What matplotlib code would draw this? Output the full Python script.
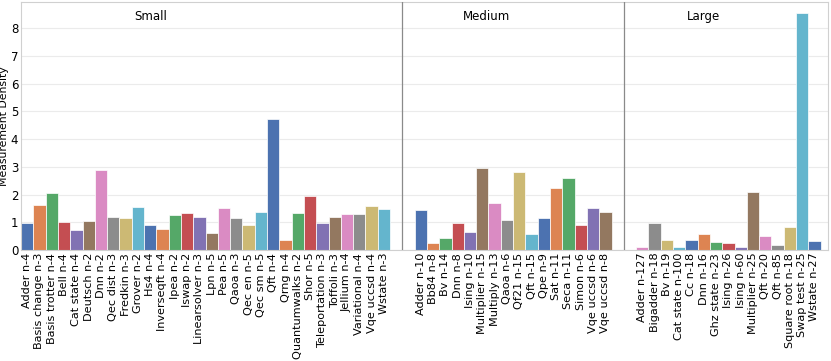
import numpy as np
from matplotlib import pyplot as plt
import matplotlib.transforms as mtransforms

small_labels = ["Adder n-4", "Basis change n-3", "Basis trotter n-4", "Bell n-4", "Cat state n-4",
                "Deutsch n-2", "Dnn n-2", "Qec dist n-3", "Fredkin n-3", "Grover n-2", "Hs4 n-4",
                "Inverseqft n-4", "Ipea n-2", "Iswap n-2", "Linearsolver n-3", "Lpn n-5", "Pea n-5",
                "Qaoa n-3", "Qec en n-5", "Qec sm n-5", "Qft n-4", "Qrng n-4", "Quantumwalks n-2",
                "Shor n-5", "Teleportation n-3", "Toffoli n-3", "Jellium n-4", "Variational n-4",
                "Vqe uccsd n-4", "Wstate n-3"]
small_values = [0.96, 1.61, 2.07, 1.00, 0.71, 1.05, 2.87, 1.19, 1.17, 1.55, 0.90,
                0.76, 1.27, 1.33, 1.18, 0.60, 1.53, 1.17, 0.90, 1.36, 4.72, 0.36, 1.32,
                1.95, 0.97, 1.20, 1.29, 1.29, 1.59, 1.49]

medium_labels = ["Adder n-10", "Bb84 n-8", "Bv n-14", "Dnn n-8", "Ising n-10", "Multiplier n-15",
                 "Multiply n-13", "Qaoa n-6", "Qf21 n-15", "Qft n-15", "Qpe n-9", "Sat n-11",
                 "Seca n-11", "Simon n-6", "Vqe uccsd n-6", "Vqe uccsd n-8"]
medium_values = [1.45, 0.24, 0.42, 0.97, 0.66, 2.94, 1.68, 1.08, 2.80, 0.59, 1.15, 2.22,
                 2.58, 0.90, 1.53, 1.38]

large_labels = ["Adder n-127", "Bigadder n-18", "Bv n-19", "Cat state n-100", "Cc n-18", "Dnn n-16",
                "Ghz state n-23", "Ising n-26", "Ising n-60", "Multiplier n-25", "Qft n-20",
                "Qft n-85", "Square root n-18", "Swap test n-25", "Wstate n-27"]
large_values = [0.10, 0.96, 0.35, 0.10, 0.35, 0.56, 0.29, 0.24, 0.12, 2.08, 0.49,
                0.18, 0.82, 8.55, 0.31]

groups = [("Small", small_labels, small_values),
          ("Medium", medium_labels, medium_values),
          ("Large", large_labels, large_values)]

palette = ["#4C72B0", "#DD8452", "#55A868", "#C44E52", "#8172B3",
           "#937860", "#DA8BC3", "#8C8C8C", "#CCB974", "#64B5CD"]

gap = 2

fig = plt.figure(figsize=(8.31, 3.61), dpi=100)
ax = fig.add_axes([0.0253, 0.3075, 0.9711, 0.687])

positions = []
labels = []
values = []
start = 0
text_x = []
separators = []
for name, labs, vals in groups:
    pos = np.arange(start, start + len(labs))
    positions.extend(pos)
    labels.extend(labs)
    values.extend(vals)
    text_x.append((name, start + len(labs) / 3))
    start += len(labs) + gap
    separators.append(start - gap / 2 - 0.5)

colors = [palette[i % len(palette)] for i in range(len(values))]
ax.bar(positions, values, width=1.0, color=colors, edgecolor="white", linewidth=0.5, zorder=2)

for s in separators[:-1]:
    ax.axvline(s, color="#8a8a8a", linewidth=0.9, zorder=3)

trans = mtransforms.blended_transform_factory(ax.transData, ax.transAxes)
for name, x in text_x:
    ax.text(x, 0.94, name, transform=trans, ha="center", va="center", fontsize=8.5)

ax.set_xlim(-0.5, 65.1)
ax.set_ylim(0, 8.94)
ax.set_xticks(positions)
ax.set_xticklabels(labels, rotation=90, fontsize=8.1)
ax.set_yticks(range(0, 9))
ax.tick_params(axis="x", length=0, pad=2)
ax.tick_params(axis="y", length=0, pad=2, labelsize=8.5)
ax.set_ylabel("Measurement Density", fontsize=7.8, labelpad=1)
ax.yaxis.grid(True, color="#ebebeb", linewidth=0.8, zorder=0)
ax.set_axisbelow(True)
for sp in ax.spines.values():
    sp.set_color("#d0d0d0")
    sp.set_linewidth(0.8)

plt.savefig("out.png", dpi=100)
